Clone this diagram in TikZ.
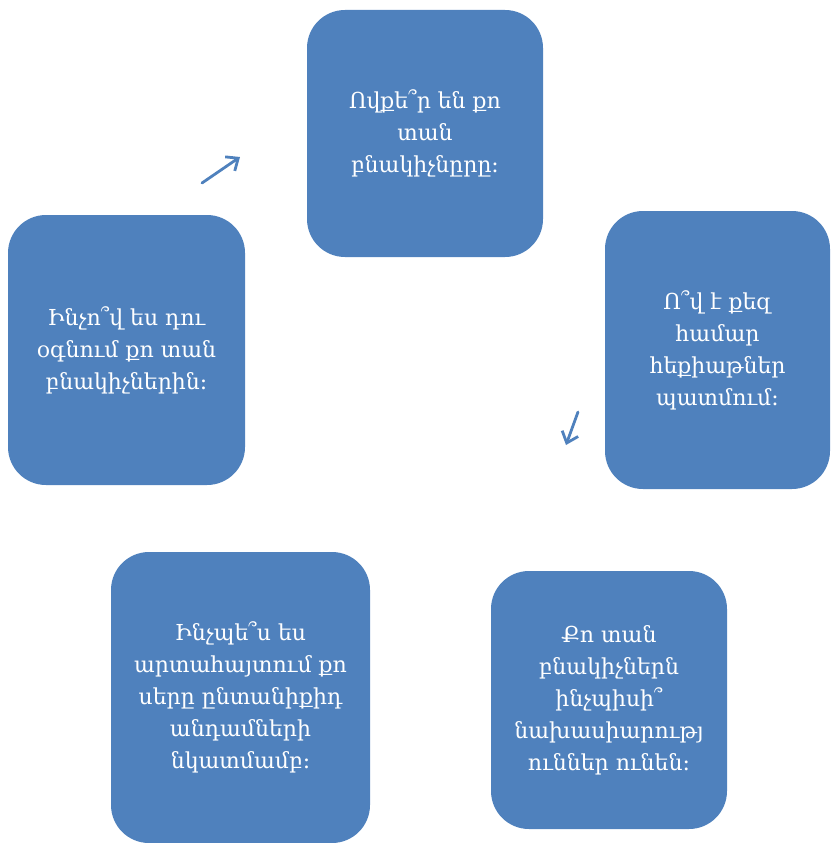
\documentclass[tikz,border=0pt]{standalone}
\usepackage{fontspec}
\newfontfamily\armfont[Script=Armenian]{DejaVu Serif}
\usetikzlibrary{arrows.meta}
\definecolor{boxblue}{HTML}{4F81BD}
\tikzset{
  qbox/.style={fill=boxblue, draw=none, rounded corners=38pt, inner sep=0pt,
    text=white, align=center, font=\armfont\fontsize{22}{32}\selectfont},
  cyclearrow/.style={draw=boxblue, line width=2.8pt, line cap=round,
    -{Straight Barb[length=10pt,width=17pt,line width=2.8pt]}}
}
\begin{document}
\begin{tikzpicture}[x=1pt,y=-1pt]
\useasboundingbox (0,0) rectangle (830,843);
\node[qbox, minimum width=236pt, minimum height=247pt] (top) at (425,133.5)
  {Ովքե՞ր են քո\\տան\\բնակիչնըրը։};
\node[qbox, minimum width=225pt, minimum height=278pt] (right) at (717.5,350)
  {Ո՞վ է քեզ\\համար\\հեքիաթներ\\պատմում։};
\node[qbox, minimum width=237pt, minimum height=270pt] (left) at (126.5,350)
  {Ինչո՞վ ես դու\\օգնում քո տան\\բնակիչներին։};
\node[qbox, minimum width=259pt, minimum height=291pt] (bl) at (240.5,697.5)
  {Ինչպե՞ս ես\\արտահայտում քո\\սերը ընտանիքիդ\\անդամների\\նկատմամբ։};
\node[qbox, minimum width=236pt, minimum height=258pt] (br) at (609,700)
  {Քո տան\\բնակիչներն\\ինչպիսի՞\\նախասիարությ\\ուններ ունեն։};
\coordinate (a1s) at (202,183);
\coordinate (a1e) at (240,157);
\coordinate (a2s) at (578,412);
\coordinate (a2e) at (566,445);
\draw[cyclearrow] (a1s) -- (a1e);
\draw[cyclearrow] (a2s) -- (a2e);
\end{tikzpicture}
\end{document}
